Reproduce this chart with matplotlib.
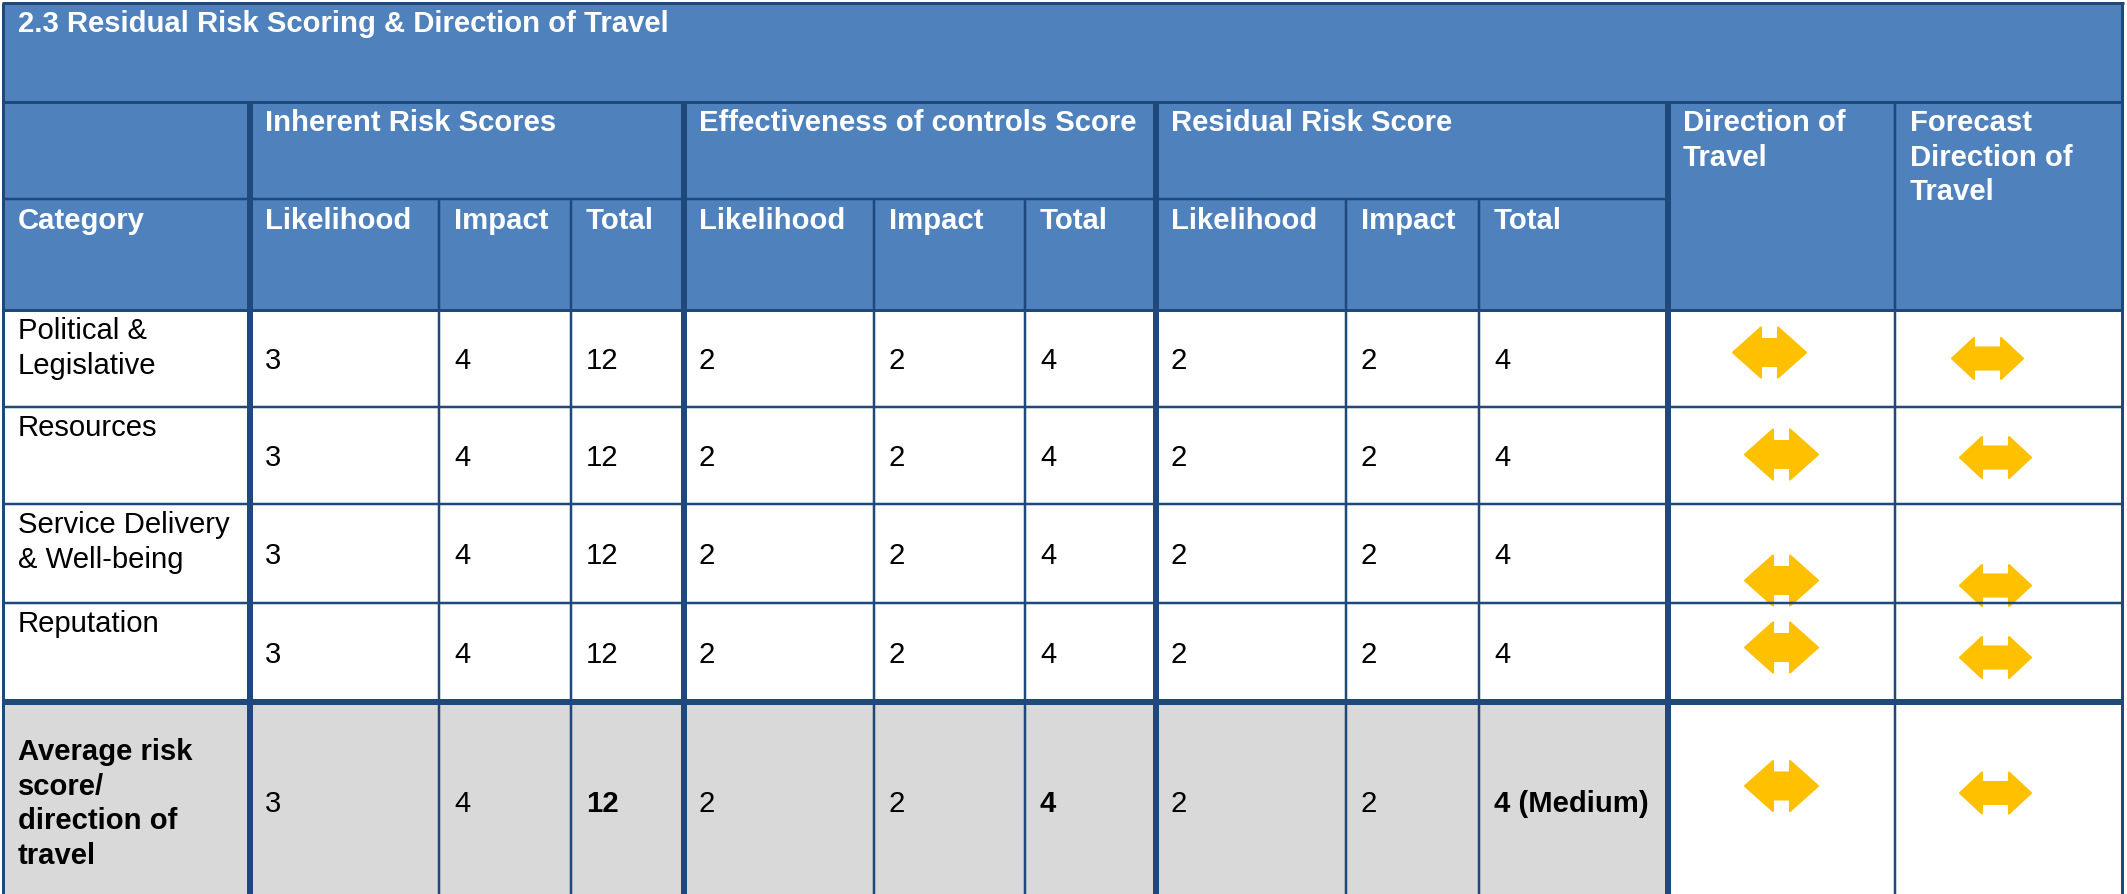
import matplotlib
matplotlib.use('Agg')
import matplotlib.pyplot as plt
from matplotlib.patches import Rectangle, Polygon

plt.rcParams['font.family'] = ['Liberation Sans', 'DejaVu Sans']

# ---- table content ----
title = '2.3 Residual Risk Scoring & Direction of Travel'
groups = ['Inherent Risk Scores', 'Effectiveness of controls Score', 'Residual Risk Score']
sub_headers = ['Likelihood', 'Impact', 'Total']
category_header = 'Category'
direction_header = 'Direction of\nTravel'
forecast_header = 'Forecast\nDirection of\nTravel'

categories = ['Political &\nLegislative', 'Resources', 'Service Delivery\n& Well-being', 'Reputation']
inherent_likelihood = [3, 3, 3, 3]
inherent_impact = [4, 4, 4, 4]
inherent_total = [12, 12, 12, 12]
control_likelihood = [2, 2, 2, 2]
control_impact = [2, 2, 2, 2]
control_total = [4, 4, 4, 4]
residual_likelihood = [2, 2, 2, 2]
residual_impact = [2, 2, 2, 2]
residual_total = [4, 4, 4, 4]
direction = ['level', 'level', 'level', 'level']
forecast = ['level', 'level', 'level', 'level']

avg_label = 'Average risk\nscore/\ndirection of\ntravel'
avg_scores = ['3', '4', '12', '2', '2', '4', '2', '2', '4 (Medium)']
avg_bold = [False, False, True, False, False, True, False, False, True]
avg_direction = 'level'
avg_forecast = 'level'

# ---- layout (pixels) ----
W, H = 2127, 894
col_edges = [3, 250, 439, 571, 684, 874, 1025, 1156, 1346, 1479, 1668, 1895, 2122]
row_edges = [3, 102, 199, 310, 407, 504, 603, 702, 900]
# arrow nudges inside their cells (dx, dy), rows then average row
dir_offsets = [(-12, -6), (0, -1), (0, 27), (0, -5), (0, -15)]
fc_offsets = [(-21, 0), (-13, 2), (-13, 32), (-13, 5), (-13, -8)]

header_blue = '#4F81BD'
border = '#1F497D'
grey = '#D9D9D9'
arrow_col = '#FFC000'
fs = 21.1
pad = 15

fig = plt.figure(figsize=(W / 100, H / 100), dpi=100)
ax = fig.add_axes([0, 0, 1, 1])
ax.set_xlim(0, W)
ax.set_ylim(H, 0)
ax.axis('off')

def px(p):
    return p * 0.72

# fills
ax.add_patch(Rectangle((col_edges[0], row_edges[0]), col_edges[-1] - col_edges[0],
                       row_edges[3] - row_edges[0], fc=header_blue, ec='none', zorder=0))
ax.add_patch(Rectangle((col_edges[0], row_edges[7]), col_edges[10] - col_edges[0],
                       row_edges[8] - row_edges[7], fc=grey, ec='none', zorder=0))

# lines
def hline(y, x0, x1, w):
    ax.plot([x0, x1], [y, y], color=border, lw=px(w), solid_capstyle='butt', zorder=3)

def vline(x, y0, y1, w):
    ax.plot([x, x], [y0, y1], color=border, lw=px(w), solid_capstyle='butt', zorder=3)

left, right = col_edges[0], col_edges[-1]
top, bottom = row_edges[0], row_edges[-1]
hline(top, left - 1.5, right + 1.5, 3)
hline(row_edges[1], left, right, 3)
hline(row_edges[2], left, col_edges[10], 2.5)
hline(row_edges[3], left, right, 3)
for y in row_edges[4:7]:
    hline(y, left, right, 2.5)
hline(row_edges[7], left, right, 6)
vline(left, top, bottom, 3)
vline(right, top, bottom, 3)
for i in [1, 4, 7, 10]:
    vline(col_edges[i], row_edges[1], bottom, 6)
vline(col_edges[11], row_edges[1], bottom, 2.5)
for i in [2, 3, 5, 6, 8, 9]:
    vline(col_edges[i], row_edges[2], bottom, 2.5)

# header text
def txt(x, y, s, color='black', bold=False, va='top'):
    ax.text(x, y, s, fontsize=fs, color=color, fontweight='bold' if bold else 'normal',
            ha='left', va=va, linespacing=1.3, zorder=4)

txt(left + pad, top + 7, title, 'white', True)
for g, name in enumerate(groups):
    txt(col_edges[1 + 3 * g] + pad, row_edges[1] + 7, name, 'white', True)
    for k, sub in enumerate(sub_headers):
        txt(col_edges[1 + 3 * g + k] + pad, row_edges[2] + 8, sub, 'white', True)
txt(left + pad, row_edges[2] + 8, category_header, 'white', True)
txt(col_edges[10] + pad, row_edges[1] + 7, direction_header, 'white', True)
txt(col_edges[11] + pad, row_edges[1] + 7, forecast_header, 'white', True)

# arrows
def arrow(cx, cy, big):
    if big:
        hw, hl, hh, sh = 36.5, 28, 25, 13.5
    else:
        hw, hl, hh, sh = 35.5, 22, 20.5, 11
    pts = [(-hw, 0), (-hw + hl, -hh), (-hw + hl, -sh), (hw - hl, -sh), (hw - hl, -hh),
           (hw, 0), (hw - hl, hh), (hw - hl, sh), (-hw + hl, sh), (-hw + hl, hh)]
    ax.add_patch(Polygon([(cx + a, cy + b) for a, b in pts], closed=True, fc=arrow_col,
                         ec=arrow_col, lw=1.5, joinstyle='round', zorder=2))

def draw_arrow(kind, col, row, offset, big):
    if kind != 'level':
        return
    cx = (col_edges[col] + col_edges[col + 1]) / 2 + offset[0]
    cy = (row_edges[row] + row_edges[row + 1]) / 2 + offset[1]
    arrow(cx, cy, big)

# body rows
columns = [inherent_likelihood, inherent_impact, inherent_total,
           control_likelihood, control_impact, control_total,
           residual_likelihood, residual_impact, residual_total]
for r, cat in enumerate(categories):
    y0, y1 = row_edges[3 + r], row_edges[4 + r]
    txt(left + pad, y0 + 7, cat)
    for c, vals in enumerate(columns):
        txt(col_edges[1 + c] + pad, (y0 + y1) / 2 + 10.5, str(vals[r]), va='baseline')
    draw_arrow(direction[r], 10, 3 + r, dir_offsets[r], True)
    draw_arrow(forecast[r], 11, 3 + r, fc_offsets[r], False)

# average row
y0, y1 = row_edges[7], row_edges[8]
txt(left + pad, (y0 + y1) / 2 + 3, avg_label, bold=True, va='center')
for c, (s, b) in enumerate(zip(avg_scores, avg_bold)):
    txt(col_edges[1 + c] + pad, (y0 + y1) / 2 + 10.5, s, bold=b, va='baseline')
draw_arrow(avg_direction, 10, 7, dir_offsets[4], True)
draw_arrow(avg_forecast, 11, 7, fc_offsets[4], False)

fig.savefig('out.png', dpi=100, facecolor='white')
